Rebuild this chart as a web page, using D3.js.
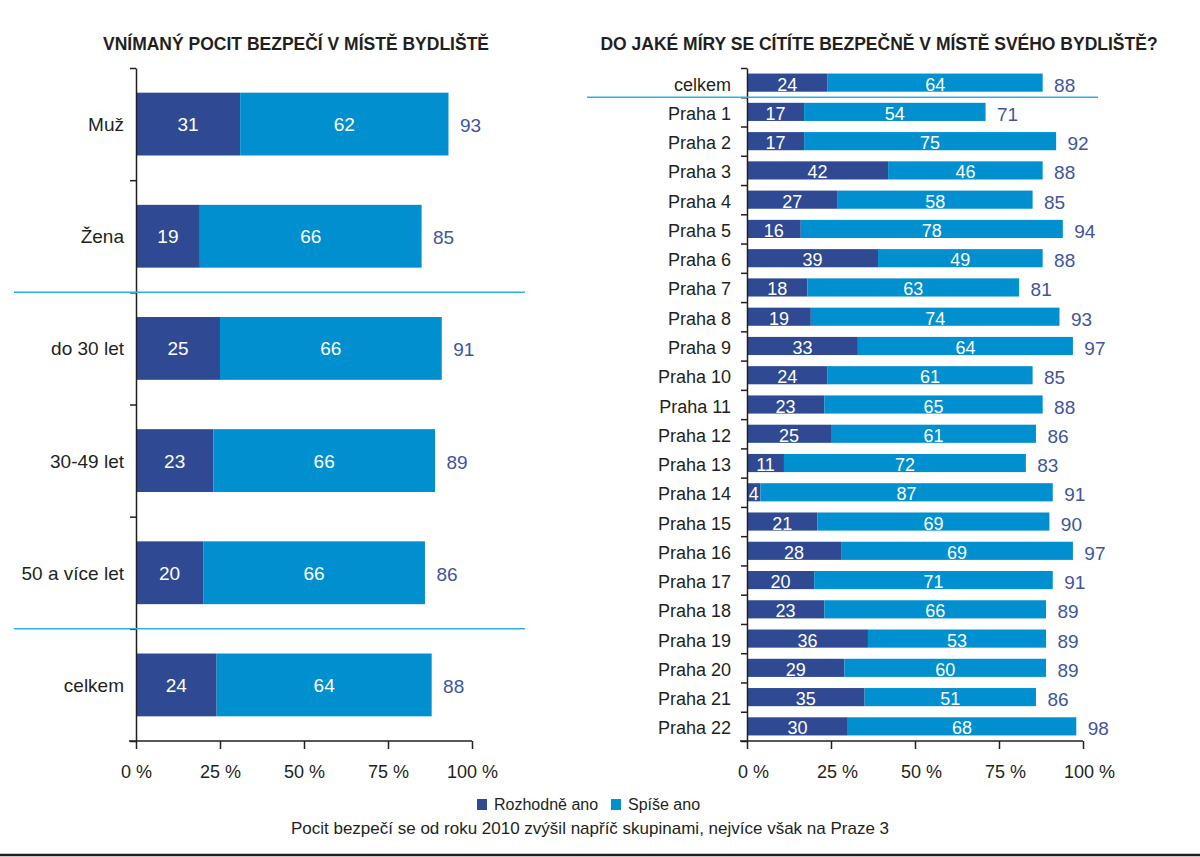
<!DOCTYPE html>
<html>
<head>
<meta charset="utf-8">
<script src="https://cdn.jsdelivr.net/npm/d3@7"></script>
<style>
  body { margin: 0; background: #fff; }
  svg { display: block; }
  text { font-family: "Liberation Sans", Arial, sans-serif; }
</style>
</head>
<body>
<div id="chart"></div>
<script>
// --- data ---
var series = ['Rozhodně ano', 'Spíše ano'];

var leftCats = ['Muž', 'Žena', 'do 30 let', '30-49 let', '50 a více let', 'celkem'];
var leftStrong = [31, 19, 25, 23, 20, 24];
var leftRather = [62, 66, 66, 66, 66, 64];
var leftTotal = [93, 85, 91, 89, 86, 88];

var rightCats = ['celkem', 'Praha 1', 'Praha 2', 'Praha 3', 'Praha 4', 'Praha 5', 'Praha 6',
  'Praha 7', 'Praha 8', 'Praha 9', 'Praha 10', 'Praha 11', 'Praha 12', 'Praha 13', 'Praha 14',
  'Praha 15', 'Praha 16', 'Praha 17', 'Praha 18', 'Praha 19', 'Praha 20', 'Praha 21', 'Praha 22'];
var rightStrong = [24, 17, 17, 42, 27, 16, 39, 18, 19, 33, 24, 23, 25, 11, 4, 21, 28, 20, 23, 36, 29, 35, 30];
var rightRather = [64, 54, 75, 46, 58, 78, 49, 63, 74, 64, 61, 65, 61, 72, 87, 69, 69, 71, 66, 53, 60, 51, 68];
var rightTotal = [88, 71, 92, 88, 85, 94, 88, 81, 93, 97, 85, 88, 86, 83, 91, 90, 97, 91, 89, 89, 89, 86, 98];

var xTicks = [0, 25, 50, 75, 100];

var colors = ['#2f4a93', '#0190cf'];
var sepColor = '#2fb0e3';
var inkColor = '#231f20';
var totalColor = '#3f55a0';

var svg = d3.select('#chart')
  .append('svg')
    .attr('width', 1200)
    .attr('height', 857);

// --- one panel ---
function panel(opt) {
  var g = svg.append('g');
  var x = d3.scaleLinear().domain([0, 100]).range([opt.x0, opt.x0 + 336]);
  var y = d3.scaleBand().domain(opt.cats).range([68, 741])
    .paddingInner(opt.pad).paddingOuter(opt.pad / 2);
  var yb = d3.scaleLinear().domain([0, opt.cats.length]).range([68, 741]);

  var rows = opt.cats.map(function (c, i) {
    return { cat: c, a: opt.strong[i], b: opt.rather[i], t: opt.total[i] };
  });

  // title
  g.append('text')
    .attr('x', opt.titleX)
    .attr('y', 50)
    .attr('text-anchor', 'middle')
    .style('font-family', '"Liberation Sans Narrow", "Liberation Sans", Arial, sans-serif')
    .style('font-weight', 'bold')
    .style('font-size', '17.5px')
    .attr('fill', inkColor)
    .text(opt.title);

  // bars
  var row = g.selectAll('g.row').data(rows).enter().append('g').attr('class', 'row');
  row.append('rect')
    .attr('x', x(0))
    .attr('y', function (d) { return y(d.cat); })
    .attr('width', function (d) { return x(d.a) - x(0); })
    .attr('height', y.bandwidth())
    .attr('fill', colors[0]);
  row.append('rect')
    .attr('x', function (d) { return x(d.a); })
    .attr('y', function (d) { return y(d.cat); })
    .attr('width', function (d) { return x(d.a + d.b) - x(d.a); })
    .attr('height', y.bandwidth())
    .attr('fill', colors[1]);

  var cy = function (d) { return y(d.cat) + y.bandwidth() / 2 + opt.textDy; };

  row.append('text')
    .attr('x', function (d) { return x(d.a / 2); })
    .attr('y', cy)
    .attr('text-anchor', 'middle')
    .attr('fill', '#fff')
    .style('font-size', opt.valSize)
    .text(function (d) { return d.a; });
  row.append('text')
    .attr('x', function (d) { return x(d.a + d.b / 2); })
    .attr('y', cy)
    .attr('text-anchor', 'middle')
    .attr('fill', '#fff')
    .style('font-size', opt.valSize)
    .text(function (d) { return d.b; });
  row.append('text')
    .attr('x', function (d) { return x(d.a + d.b) + 22; })
    .attr('y', function (d) { return cy(d) + 1; })
    .attr('text-anchor', 'middle')
    .attr('fill', totalColor)
    .style('font-size', '19px')
    .text(function (d) { return d.t; });
  row.append('text')
    .attr('x', x(0) - opt.labelGap)
    .attr('y', cy)
    .attr('text-anchor', 'end')
    .attr('fill', inkColor)
    .style('font-size', opt.labelSize)
    .text(function (d) { return d.cat; });

  // vertical axis with ticks at category boundaries
  var ya = g.append('g')
    .attr('transform', 'translate(' + x(0) + ',0)')
    .call(d3.axisLeft(yb).ticks(opt.cats.length).tickSize(6).tickSizeOuter(0).tickFormat(''));
  ya.selectAll('path, line').attr('stroke', inkColor).attr('stroke-width', 1.5);

  // horizontal axis
  var xa = g.append('g')
    .attr('transform', 'translate(0,741)')
    .call(d3.axisBottom(x).tickValues(xTicks).tickSize(8).tickSizeOuter(0).tickPadding(16)
      .tickFormat(function (d) { return d + ' %'; }));
  xa.select('.domain').attr('d', 'M' + (x(0) - 7) + ',0H' + x(100));
  xa.selectAll('path, line').attr('stroke', inkColor).attr('stroke-width', 1.5);
  xa.selectAll('text')
    .attr('dx', opt.tickDx)
    .attr('fill', inkColor)
    .style('font-family', '"Liberation Sans", Arial, sans-serif')
    .style('font-size', '18px');

  // separators
  g.selectAll('line.sep').data(opt.seps).enter().append('line')
    .attr('class', 'sep')
    .attr('x1', opt.sepX[0]).attr('x2', opt.sepX[1])
    .attr('y1', function (d) { return yb(d); })
    .attr('y2', function (d) { return yb(d); })
    .attr('stroke', sepColor)
    .attr('stroke-width', 1.5);
}

panel({
  cats: leftCats, strong: leftStrong, rather: leftRather, total: leftTotal,
  x0: 136, pad: 0.44, textDy: 7, valSize: '19px', tickDx: 0, labelGap: 12, labelSize: '19px',
  title: 'VNÍMANÝ POCIT BEZPEČÍ V MÍSTĚ BYDLIŠTĚ', titleX: 296,
  seps: [2, 5], sepX: [14, 525]
});

panel({
  cats: rightCats, strong: rightStrong, rather: rightRather, total: rightTotal,
  x0: 747, pad: 0.38, textDy: 8, valSize: '18px', tickDx: 6, labelGap: 16, labelSize: '18px',
  title: 'DO JAKÉ MÍRY SE CÍTÍTE BEZPEČNĚ V MÍSTĚ SVÉHO BYDLIŠTĚ?', titleX: 879,
  seps: [1], sepX: [587, 1098]
});

// legend
var legend = svg.append('g');
var legX = [477, 611];
var item = legend.selectAll('g').data(series).enter().append('g')
  .attr('transform', function (d, i) { return 'translate(' + legX[i] + ',0)'; });
item.append('rect')
  .attr('x', 0).attr('y', 799)
  .attr('width', 10).attr('height', 11)
  .attr('fill', function (d, i) { return colors[i]; });
item.append('text')
  .attr('x', 17).attr('y', 810)
  .attr('fill', inkColor)
  .style('font-size', '16px')
  .text(function (d) { return d; });

svg.append('text')
  .attr('x', 590).attr('y', 834)
  .attr('text-anchor', 'middle')
  .attr('fill', inkColor)
  .style('font-size', '17px')
  .text('Pocit bezpečí se od roku 2010 zvýšil napříč skupinami, nejvíce však na Praze 3');

svg.append('line')
  .attr('x1', 0).attr('x2', 1200)
  .attr('y1', 855).attr('y2', 855)
  .attr('stroke', inkColor)
  .attr('stroke-width', 2.5);
</script>
</body>
</html>
